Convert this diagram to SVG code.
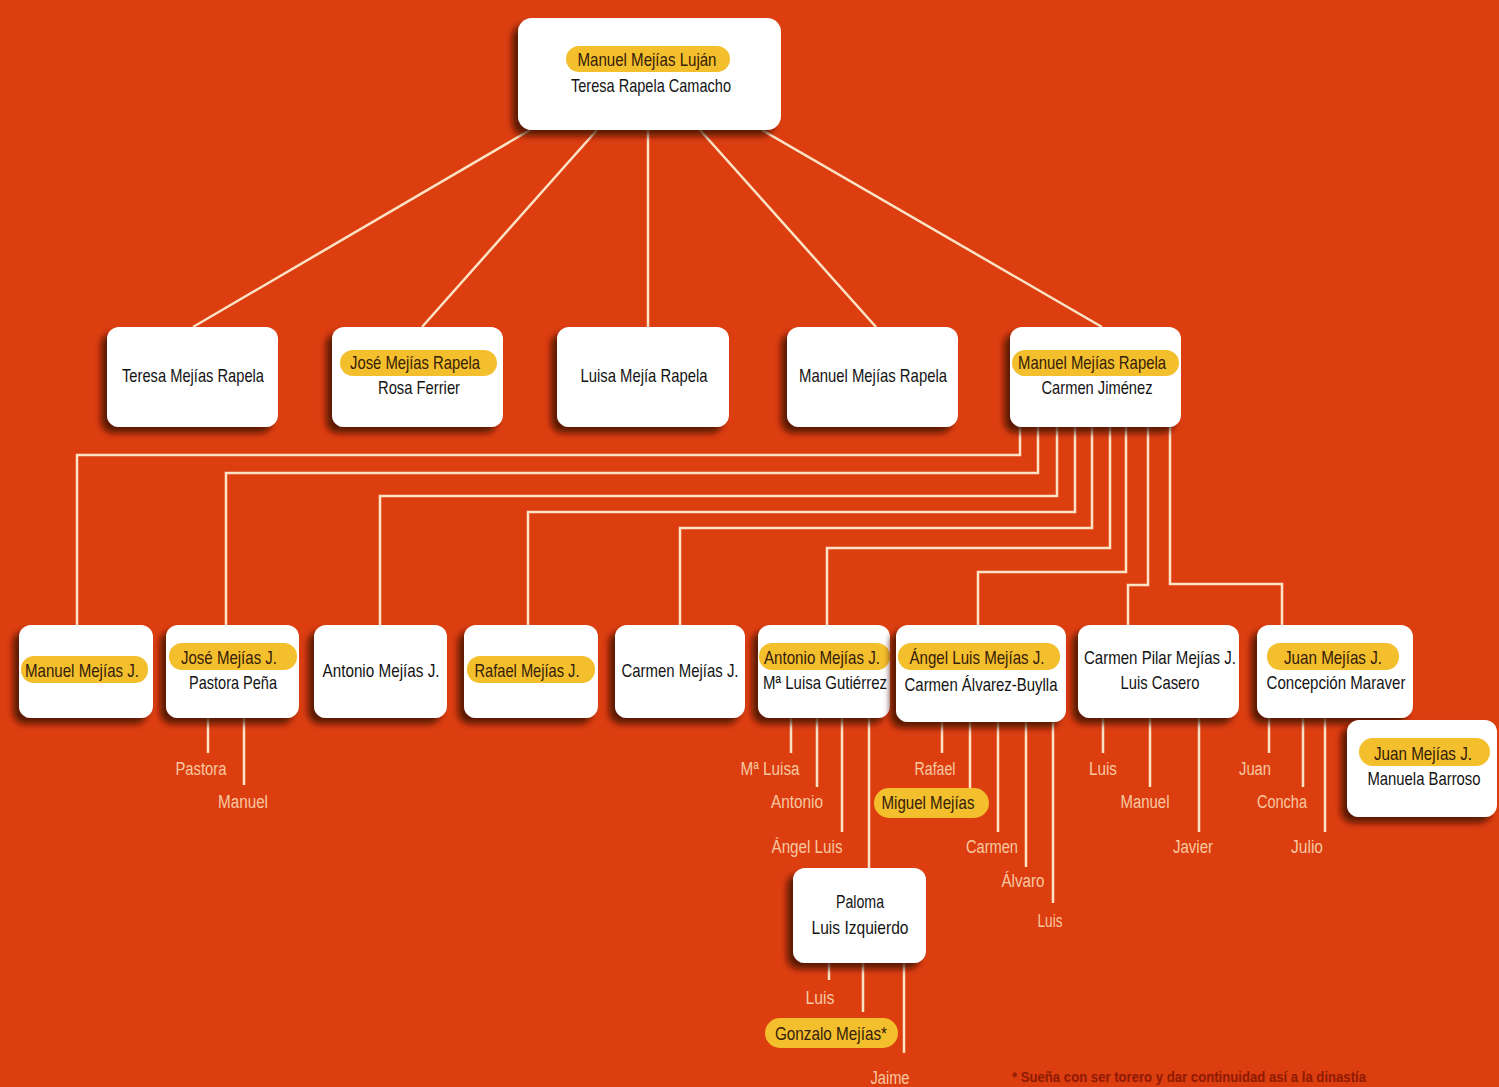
<svg xmlns="http://www.w3.org/2000/svg" width="1499" height="1087" viewBox="0 0 1499 1087">
<defs>
<filter id="sh" x="-20%" y="-20%" width="140%" height="150%">
<feDropShadow dx="-6" dy="6" stdDeviation="3" flood-color="#3a0800" flood-opacity="0.8"/>
</filter>
<style>
.bg{fill:#dc3e10}
.node{fill:#ffffff;filter:url(#sh)}
.pill{fill:#f4bf2c}
.t{font-family:"Liberation Sans",Arial,sans-serif;font-size:19px;fill:#141414;text-anchor:middle}
.tp{fill:#35200a}
.c{font-family:"Liberation Sans",Arial,sans-serif;font-size:18px;fill:#f8c8a0;text-anchor:middle}
.ln{fill:none;stroke:#fce3c6;stroke-width:2.5}
.fn{font-family:"Liberation Sans",Arial,sans-serif;font-size:15px;font-weight:bold;fill:#8e1a02}
</style>
</defs>
<rect class="bg" x="0" y="0" width="1499" height="1087"/>

<g id="connectors">
<path class="ln" d="M530 130 L193 327"/>
<path class="ln" d="M597 130 L422 327"/>
<path class="ln" d="M648 130 V327"/>
<path class="ln" d="M700 130 L876 327"/>
<path class="ln" d="M762 130 L1102 327"/>
<path class="ln" d="M1020 427 V455 H77 V625"/>
<path class="ln" d="M1038 427 V473 H226 V625"/>
<path class="ln" d="M1057 427 V496 H380 V625"/>
<path class="ln" d="M1075 427 V512 H528 V625"/>
<path class="ln" d="M1092 427 V528 H680 V625"/>
<path class="ln" d="M1110 427 V548 H827 V625"/>
<path class="ln" d="M1126 427 V572 H978 V625"/>
<path class="ln" d="M1148 427 V585 H1128 V625"/>
<path class="ln" d="M1170 427 V584 H1282 V625"/>
<path class="ln" d="M208 718 V753 M244 718 V785"/>
<path class="ln" d="M791 718 V753 M817 718 V787 M842 718 V832 M869 718 V868"/>
<path class="ln" d="M942 722 V753 M970 722 V790 M998 722 V832 M1026 722 V867 M1053 722 V903"/>
<path class="ln" d="M1103 718 V753 M1150 718 V787 M1199 718 V832"/>
<path class="ln" d="M1269 718 V753 M1303 718 V787 M1325 718 V832"/>
<path class="ln" d="M829 963 V980 M863 963 V1012 M904 963 V1053"/>
</g>

<g id="n-root">
<rect class="node" x="518" y="18" width="263" height="112" rx="14"/>
<rect class="pill" x="566" y="46" width="164" height="26" rx="13"/>
<text class="t tp" x="647" y="66" textLength="139" lengthAdjust="spacingAndGlyphs">Manuel Mejías Luján</text>
<text class="t" x="651" y="92" textLength="160" lengthAdjust="spacingAndGlyphs">Teresa Rapela Camacho</text>
</g>

<g id="n-teresa">
<rect class="node" x="107" y="327" width="171" height="100" rx="12"/>
<text class="t" x="193" y="382" textLength="142" lengthAdjust="spacingAndGlyphs">Teresa Mejías Rapela</text>
</g>
<g id="n-jose">
<rect class="node" x="332" y="327" width="171" height="100" rx="12"/>
<rect class="pill" x="340" y="350" width="157" height="26" rx="13"/>
<text class="t tp" x="415" y="369" textLength="130" lengthAdjust="spacingAndGlyphs">José Mejías Rapela</text>
<text class="t" x="419" y="394" textLength="82" lengthAdjust="spacingAndGlyphs">Rosa Ferrier</text>
</g>
<g id="n-luisa">
<rect class="node" x="557" y="327" width="172" height="100" rx="12"/>
<text class="t" x="644" y="382" textLength="127" lengthAdjust="spacingAndGlyphs">Luisa Mejía Rapela</text>
</g>
<g id="n-manuel1">
<rect class="node" x="787" y="327" width="171" height="100" rx="12"/>
<text class="t" x="873" y="382" textLength="148" lengthAdjust="spacingAndGlyphs">Manuel Mejías Rapela</text>
</g>
<g id="n-manuel2">
<rect class="node" x="1010" y="327" width="171" height="100" rx="12"/>
<rect class="pill" x="1012" y="350" width="167" height="26" rx="13"/>
<text class="t tp" x="1092" y="369" textLength="148" lengthAdjust="spacingAndGlyphs">Manuel Mejías Rapela</text>
<text class="t" x="1097" y="394" textLength="111" lengthAdjust="spacingAndGlyphs">Carmen Jiménez</text>
</g>

<g id="n-manuelj">
<rect class="node" x="19" y="625" width="134" height="93" rx="12"/>
<rect class="pill" x="21" y="656" width="127" height="27" rx="13"/>
<text class="t tp" x="82" y="677" textLength="114" lengthAdjust="spacingAndGlyphs">Manuel Mejías J.</text>
</g>
<g id="n-josej">
<rect class="node" x="166" y="625" width="133" height="93" rx="12"/>
<rect class="pill" x="169" y="643" width="128" height="27" rx="13"/>
<text class="t tp" x="229" y="664" textLength="96" lengthAdjust="spacingAndGlyphs">José Mejías J.</text>
<text class="t" x="233" y="689" textLength="88" lengthAdjust="spacingAndGlyphs">Pastora Peña</text>
</g>
<g id="n-antonioj">
<rect class="node" x="314" y="625" width="133" height="93" rx="12"/>
<text class="t" x="381" y="677" textLength="117" lengthAdjust="spacingAndGlyphs">Antonio Mejías J.</text>
</g>
<g id="n-rafaelj">
<rect class="node" x="464" y="625" width="134" height="93" rx="12"/>
<rect class="pill" x="467" y="656" width="128" height="27" rx="13"/>
<text class="t tp" x="527" y="677" textLength="105" lengthAdjust="spacingAndGlyphs">Rafael Mejías J.</text>
</g>
<g id="n-carmenj">
<rect class="node" x="615" y="625" width="130" height="93" rx="12"/>
<text class="t" x="680" y="677" textLength="117" lengthAdjust="spacingAndGlyphs">Carmen Mejías J.</text>
</g>
<g id="n-antonio2">
<rect class="node" x="758" y="625" width="132" height="93" rx="12"/>
<rect class="pill" x="759" y="643" width="131" height="27" rx="13"/>
<text class="t tp" x="822" y="664" textLength="116" lengthAdjust="spacingAndGlyphs">Antonio Mejías J.</text>
<text class="t" x="825" y="689" textLength="124" lengthAdjust="spacingAndGlyphs">Mª Luisa Gutiérrez</text>
</g>
<g id="n-angel">
<rect class="node" x="896" y="625" width="170" height="97" rx="12"/>
<rect class="pill" x="898" y="643" width="162" height="27" rx="13"/>
<text class="t tp" x="977" y="664" textLength="135" lengthAdjust="spacingAndGlyphs">Ángel Luis Mejías J.</text>
<text class="t" x="981" y="691" textLength="153" lengthAdjust="spacingAndGlyphs">Carmen Álvarez-Buylla</text>
</g>
<g id="n-carmenpilar">
<rect class="node" x="1078" y="625" width="161" height="93" rx="12"/>
<text class="t" x="1160" y="664" textLength="152" lengthAdjust="spacingAndGlyphs">Carmen Pilar Mejías J.</text>
<text class="t" x="1160" y="689" textLength="79" lengthAdjust="spacingAndGlyphs">Luis Casero</text>
</g>
<g id="n-juan1">
<rect class="node" x="1257" y="625" width="156" height="93" rx="12"/>
<rect class="pill" x="1267" y="643" width="132" height="27" rx="13"/>
<text class="t tp" x="1333" y="664" textLength="98" lengthAdjust="spacingAndGlyphs">Juan Mejías J.</text>
<text class="t" x="1336" y="689" textLength="139" lengthAdjust="spacingAndGlyphs">Concepción Maraver</text>
</g>
<g id="n-juan2">
<rect class="node" x="1347" y="720" width="150" height="97" rx="12"/>
<rect class="pill" x="1359" y="738" width="131" height="28" rx="14"/>
<text class="t tp" x="1423" y="760" textLength="98" lengthAdjust="spacingAndGlyphs">Juan Mejías J.</text>
<text class="t" x="1424" y="785" textLength="113" lengthAdjust="spacingAndGlyphs">Manuela Barroso</text>
</g>
<g id="n-paloma">
<rect class="node" x="793" y="868" width="133" height="95" rx="12"/>
<text class="t" x="860" y="908" textLength="48" lengthAdjust="spacingAndGlyphs">Paloma</text>
<text class="t" x="860" y="934" textLength="97" lengthAdjust="spacingAndGlyphs">Luis Izquierdo</text>
</g>

<g id="children">
<text class="c" x="201" y="775" textLength="51" lengthAdjust="spacingAndGlyphs">Pastora</text>
<text class="c" x="243" y="808" textLength="50" lengthAdjust="spacingAndGlyphs">Manuel</text>
<text class="c" x="770" y="775" textLength="59" lengthAdjust="spacingAndGlyphs">Mª Luisa</text>
<text class="c" x="797" y="808" textLength="52" lengthAdjust="spacingAndGlyphs">Antonio</text>
<text class="c" x="807" y="853" textLength="71" lengthAdjust="spacingAndGlyphs">Ángel Luis</text>
<text class="c" x="935" y="775" textLength="41" lengthAdjust="spacingAndGlyphs">Rafael</text>
<g id="n-miguel">
<rect class="pill" x="874" y="788" width="115" height="30" rx="15"/>
<text class="t tp" x="928" y="809" textLength="93" lengthAdjust="spacingAndGlyphs">Miguel Mejías</text>
</g>
<text class="c" x="992" y="853" textLength="52" lengthAdjust="spacingAndGlyphs">Carmen</text>
<text class="c" x="1023" y="887" textLength="43" lengthAdjust="spacingAndGlyphs">Álvaro</text>
<text class="c" x="1050" y="927" textLength="25" lengthAdjust="spacingAndGlyphs">Luis</text>
<text class="c" x="1103" y="775" textLength="28" lengthAdjust="spacingAndGlyphs">Luis</text>
<text class="c" x="1145" y="808" textLength="49" lengthAdjust="spacingAndGlyphs">Manuel</text>
<text class="c" x="1193" y="853" textLength="40" lengthAdjust="spacingAndGlyphs">Javier</text>
<text class="c" x="1255" y="775" textLength="32" lengthAdjust="spacingAndGlyphs">Juan</text>
<text class="c" x="1282" y="808" textLength="50" lengthAdjust="spacingAndGlyphs">Concha</text>
<text class="c" x="1307" y="853" textLength="32" lengthAdjust="spacingAndGlyphs">Julio</text>
<text class="c" x="820" y="1004" textLength="29" lengthAdjust="spacingAndGlyphs">Luis</text>
<g id="n-gonzalo">
<rect class="pill" x="765" y="1018" width="133" height="30" rx="15"/>
<text class="t tp" x="831" y="1040" textLength="112" lengthAdjust="spacingAndGlyphs">Gonzalo Mejías*</text>
</g>
<text class="c" x="890" y="1084" textLength="39" lengthAdjust="spacingAndGlyphs">Jaime</text>
</g>

<text class="fn" x="1012" y="1082" textLength="354" lengthAdjust="spacingAndGlyphs">* Sueña con ser torero y dar continuidad así a la dinastía</text>
</svg>
